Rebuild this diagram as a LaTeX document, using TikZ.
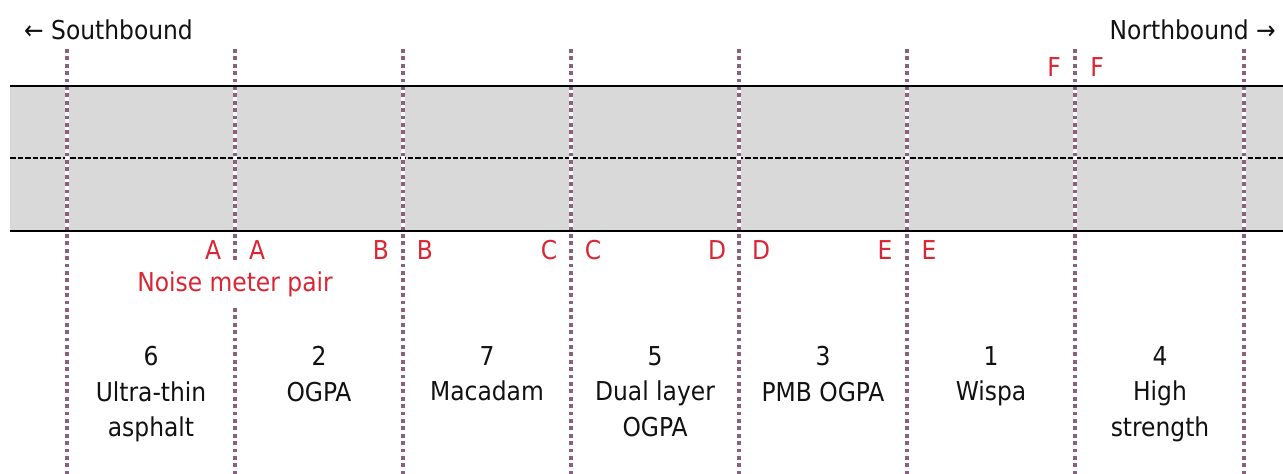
\documentclass[tikz,border=0pt]{standalone}
\usepackage{fontspec}
\setmainfont{DejaVu Sans Condensed}
\definecolor{roadgray}{RGB}{217,217,217}
\definecolor{sepcol}{RGB}{140,95,125}
\definecolor{labcol}{RGB}{218,38,52}
\definecolor{txtcol}{RGB}{17,17,17}
\begin{document}
\begin{tikzpicture}[x=1pt,y=-1pt,
  every node/.style={font=\fontsize{26}{35.5}\selectfont, inner sep=0pt, text=txtcol},
  lab/.style={text=labcol},
  sect/.style={align=center, anchor=north},
  edgeline/.style={line width=2.4pt, black},
  centreline/.style={line width=1.5pt, black, dash pattern=on 5.5pt off 2pt},
  sepback/.style={line width=3.6pt, white},
  sepline/.style={line width=3.6pt, sepcol, dash pattern=on 3.8pt off 3.6pt}]
\useasboundingbox (0,0) rectangle (1283,474);
% road
\fill[roadgray] (10,86) rectangle (1283,231);
\coordinate (cl) at (10,158);
\coordinate (cr) at (1283,158);
\draw[centreline] (cl) -- (cr);
% section separators
\foreach \x [count=\i] in {67,235,403,571,739,907,1075,1244} {
  \coordinate (t\i) at (\x,49);
  \coordinate (b\i) at (\x,474);
  \draw[sepback] (t\i) -- (b\i);
  \draw[sepline] (t\i) -- (b\i);
}
% road edges
\coordinate (tl) at (10,86);
\coordinate (tr) at (1283,86);
\coordinate (bl) at (10,231);
\coordinate (br) at (1283,231);
\draw[edgeline] (tl) -- (tr);
\draw[edgeline] (bl) -- (br);
% directions
\node[anchor=west] (sb) at (24,30) {← Southbound};
\node[anchor=east] (nb) at (1276,30) {Northbound →};
% meter labels
\node[lab] (A1) at (213,250) {A};
\node[lab] (A2) at (257,250) {A};
\node[lab] (B1) at (381,250) {B};
\node[lab] (B2) at (425,250) {B};
\node[lab] (C1) at (549,250) {C};
\node[lab] (C2) at (593,250) {C};
\node[lab] (D1) at (717,250) {D};
\node[lab] (D2) at (761,250) {D};
\node[lab] (E1) at (885,250) {E};
\node[lab] (E2) at (929,250) {E};
\node[lab] (F1) at (1054,67) {F};
\node[lab] (F2) at (1097,67) {F};
\node[lab, fill=white, inner xsep=4pt, inner ysep=7pt] (nmp) at (235,284) {Noise meter pair};
% sections
\node[sect] (s6) at (151,346) {6\\Ultra-thin\\asphalt};
\node[sect] (s2) at (319,346) {2\\OGPA};
\node[sect] (s7) at (487,346) {7\\Macadam};
\node[sect] (s5) at (655,346) {5\\Dual layer\\OGPA};
\node[sect] (s3) at (823,346) {3\\PMB OGPA};
\node[sect] (s1) at (991,346) {1\\Wispa};
\node[sect] (s4) at (1160,346) {4\\High\\strength};
\end{tikzpicture}
\end{document}
